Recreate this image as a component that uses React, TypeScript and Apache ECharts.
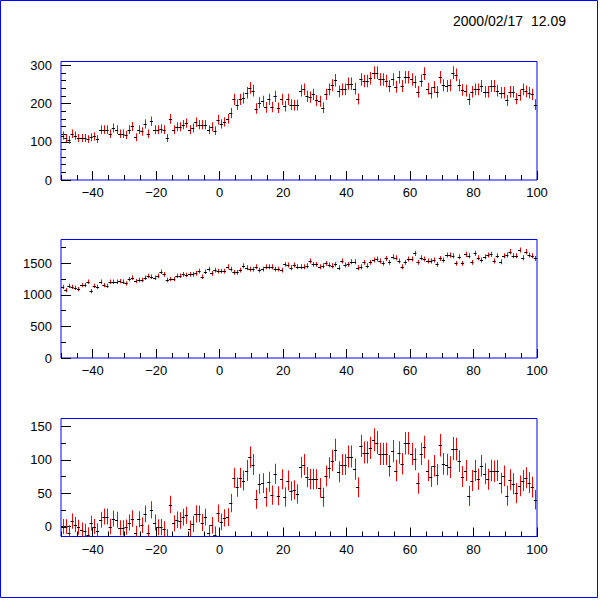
import { useEffect, useRef } from "react";
import * as echarts from "echarts";

// histogram bins: 150 bins of width 1 from -50 to 100
const BIN_MIN = -50;
const BIN_WIDTH = 1;

// top panel
const h1 = [
  116, 110, 105, 121, 116, 110, 110, 110, 107, 112,
  114, 107, 132, 132, 132, 121, 136, 132, 121, 121,
  118, 132, 140, 112, 132, 127, 147, 121, 154, 132,
  132, 134, 132, 110, 160, 132, 139, 139, 145, 149,
  132, 136, 151, 145, 145, 145, 132, 139, 129, 158,
  147, 152, 160, 175, 211, 197, 211, 215, 228, 241,
  234, 187, 202, 206, 190, 211, 191, 219, 189, 211,
  193, 211, 197, 196, 196, 234, 237, 219, 217, 224,
  208, 206, 189, 224, 237, 248, 261, 232, 237, 237,
  252, 252, 239, 212, 263, 259, 259, 266, 281, 281,
  263, 263, 259, 246, 263, 244, 269, 246, 269, 269,
  263, 257, 231, 260, 278, 239, 228, 243, 231, 269,
  248, 246, 248, 281, 275, 248, 236, 234, 211, 231,
  237, 237, 246, 231, 231, 246, 246, 234, 228, 228,
  208, 231, 231, 213, 222, 237, 232, 228, 224, 197,
];

// middle panel
const h2 = [
  1127, 1074, 1143, 1127, 1111, 1090, 1153, 1153, 1206, 1058,
  1143, 1127, 1206, 1153, 1143, 1206, 1206, 1206, 1217, 1206,
  1180, 1248, 1270, 1217, 1233, 1233, 1270, 1296, 1286, 1270,
  1296, 1365, 1323, 1233, 1248, 1248, 1302, 1302, 1323, 1312,
  1323, 1323, 1339, 1375, 1286, 1365, 1407, 1339, 1391, 1375,
  1375, 1375, 1444, 1407, 1354, 1354, 1391, 1460, 1428, 1407,
  1407, 1444, 1391, 1407, 1444, 1444, 1444, 1407, 1407, 1391,
  1481, 1471, 1428, 1471, 1444, 1444, 1444, 1460, 1534, 1481,
  1481, 1444, 1460, 1497, 1471, 1460, 1481, 1428, 1534, 1471,
  1481, 1524, 1524, 1428, 1444, 1513, 1460, 1513, 1550, 1566,
  1534, 1497, 1576, 1513, 1603, 1587, 1534, 1444, 1513, 1566,
  1566, 1656, 1513, 1587, 1566, 1534, 1534, 1550, 1481, 1576,
  1550, 1629, 1629, 1619, 1497, 1603, 1497, 1640, 1619, 1513,
  1656, 1587, 1550, 1603, 1629, 1640, 1534, 1619, 1524, 1619,
  1629, 1682, 1619, 1619, 1709, 1587, 1682, 1629, 1619, 1576,
];

// bottom panel
const h3 = [
  0, 0, -9, 8, 3, -1, -5, -7, -12, 5,
  0, -6, 10, 15, 15, 0, 12, 10, -2, -2,
  -1, 6, 12, -10, 11, 2, 19, -9, 25, 6,
  -1, -1, -4, -15, 33, 5, 10, 9, 14, 17,
  -3, 4, 19, 19, 6, 14, -10, 2, -12, 20,
  7, 13, 14, 35, 73, 59, 73, 69, 84, 104,
  93, 41, 64, 65, 44, 67, 47, 79, 46, 71,
  44, 69, 53, 55, 49, 89, 93, 74, 71, 71,
  71, 58, 44, 76, 88, 99, 115, 82, 93, 93,
  105, 105, 86, 59, 121, 111, 111, 118, 130, 126,
  109, 109, 109, 91, 113, 84, 111, 94, 125, 125,
  109, 101, 65, 109, 119, 84, 75, 91, 78, 122,
  94, 93, 89, 117, 116, 98, 75, 84, 46, 69,
  84, 71, 91, 79, 71, 84, 83, 84, 65, 76,
  46, 70, 64, 50, 61, 69, 73, 66, 59, 40,
];

// Poisson errors, as the histograms carry them
const e1 = h1.map((v) => Math.sqrt(v));
const e2 = h2.map((v) => Math.sqrt(v));
const e3 = h1.map((v, i) => Math.sqrt(v + 0.01 * h2[i]));

const X_MAJOR = [-40, -20, 0, 20, 40, 60, 80, 100];
const X_MINOR_STEP = 5;

const Y1_MAJOR = [0, 100, 200, 300];
const Y2_MAJOR = [0, 500, 1000, 1500];
const Y3_MAJOR = [0, 50, 100, 150];

const FONT = '"Liberation Sans", Arial, Helvetica, sans-serif';

const steps = (from: number, to: number, step: number) => {
  const out: number[] = [];
  for (let v = from; v <= to + 1e-9; v += step) out.push(v);
  return out;
};

const panels = [
  { values: h1, errors: e1, min: 0, max: 310, major: Y1_MAJOR, minor: steps(0, 310, 20), top: 61.5, height: 118.5 },
  { values: h2, errors: e2, min: 0, max: 1875, major: Y2_MAJOR, minor: steps(0, 1875, 250), top: 239.5, height: 118.5 },
  { values: h3, errors: e3, min: -15, max: 162, major: Y3_MAJOR, minor: steps(0, 162, 25), top: 418.5, height: 118 },
];

const fmt = (v: number) => String(v).replace("-", "\u2212");

const App = () => {
  const chartRef = useRef<HTMLDivElement>(null);

  useEffect(() => {
    if (!chartRef.current) return;
    const chart = echarts.init(chartRef.current, null, { renderer: "svg" });

    const xMinor = steps(-50, 100, X_MINOR_STEP);
    const tickStyle = { color: "#000", width: 1 };
    const noLine = { show: false, onZero: false };

    const grids = panels.map((p) => ({
      left: 61,
      top: p.top,
      width: 476,
      height: p.height,
      show: true,
      borderColor: "#0000ff",
      borderWidth: 1,
      backgroundColor: "transparent",
      containLabel: false,
      outerBoundsMode: "none",
    }));

    const xAxes: any[] = [];
    const yAxes: any[] = [];
    panels.forEach((p, i) => {
      xAxes[i] = {
        type: "value",
        gridIndex: i,
        position: "bottom",
        min: -50,
        max: 100,
        axisLine: noLine,
        splitLine: { show: false },
        axisTick: { show: true, inside: true, length: 9, customValues: X_MAJOR, lineStyle: tickStyle },
        axisLabel: { customValues: X_MAJOR, formatter: fmt, color: "#000", fontSize: 13, fontFamily: FONT, margin: 6 },
      };
      xAxes[i + 3] = {
        type: "value",
        gridIndex: i,
        position: "bottom",
        min: -50,
        max: 100,
        axisLine: noLine,
        splitLine: { show: false },
        axisTick: { show: true, inside: true, length: 5, customValues: xMinor, lineStyle: tickStyle },
        axisLabel: { show: false },
      };
      yAxes[i] = {
        type: "value",
        gridIndex: i,
        position: "left",
        min: p.min,
        max: p.max,
        axisLine: noLine,
        splitLine: { show: false },
        axisTick: { show: true, inside: true, length: 10, customValues: p.major, lineStyle: tickStyle },
        axisLabel: { customValues: p.major, formatter: fmt, color: "#000", fontSize: 13, fontFamily: FONT, margin: 9 },
      };
      yAxes[i + 3] = {
        type: "value",
        gridIndex: i,
        position: "left",
        min: p.min,
        max: p.max,
        axisLine: noLine,
        splitLine: { show: false },
        axisTick: { show: true, inside: true, length: 5, customValues: p.minor, lineStyle: tickStyle },
        axisLabel: { show: false },
      };
    });

    const series = panels.map((p, i) => ({
      type: "custom",
      xAxisIndex: i,
      yAxisIndex: i,
      clip: true,
      silent: true,
      data: p.values.map((v, k) => [BIN_MIN + (k + 0.5) * BIN_WIDTH, v, p.errors[k]]),
      encode: { x: 0, y: 1 },
      renderItem: (_params: any, api: any) => {
        const x = api.value(0);
        const y = api.value(1);
        const e = api.value(2);
        const c = api.coord([x, y]);
        const t = api.coord([x, y + e]);
        const b = api.coord([x, y - e]);
        const hw = api.size([BIN_WIDTH, 0])[0] / 2;
        const px = Math.round(c[0]);
        const py = Math.round(c[1]);
        return {
          type: "group",
          children: [
            {
              type: "rect",
              shape: { x: px, y: t[1], width: 1, height: b[1] - t[1] },
              style: { fill: "#ff0000", stroke: "none" },
            },
            {
              type: "rect",
              shape: { x: c[0] - hw, y: py, width: hw * 2, height: 1 },
              style: { fill: "#000000", stroke: "none" },
            },
          ],
        };
      },
    }));

    const option: any = {
      animation: false,
      backgroundColor: "#ffffff",
      grid: grids,
      xAxis: xAxes,
      yAxis: yAxes,
      series,
      graphic: [
        {
          type: "rect",
          silent: true,
          shape: { x: 0.5, y: 0.5, width: 597, height: 597 },
          style: { fill: "none", stroke: "#0000ff", lineWidth: 1 },
        },
        {
          type: "text",
          silent: true,
          x: 453,
          y: 21,
          style: { text: "2000/02/17", fontSize: 14, fontFamily: FONT, fill: "#000", verticalAlign: "middle" },
        },
        {
          type: "text",
          silent: true,
          x: 531,
          y: 21,
          style: { text: "12.09", fontSize: 14, fontFamily: FONT, fill: "#000", verticalAlign: "middle" },
        },
      ],
    };

    chart.setOption(option);

    return () => {
      chart.dispose();
    };
  }, []);

  return (
    <div
      ref={chartRef}
      style={{ position: "fixed", left: 0, top: 0, width: 600, height: 600, background: "#fff" }}
    />
  );
};

export default App;
